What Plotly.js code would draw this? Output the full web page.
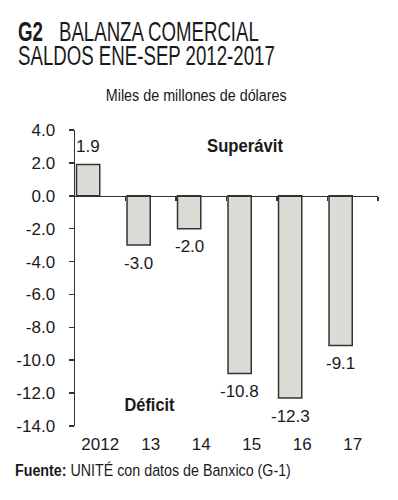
<!DOCTYPE html>
<html><head><meta charset="utf-8">
<script src="https://cdn.plot.ly/plotly-3.0.1.min.js"></script>
<style>html,body{margin:0;padding:0;background:#fff;}#chart{width:398px;height:500px;}</style>
</head><body><div id="chart"></div>
<script>
const categories = ['2012', '13', '14', '15', '16', '17'];
const values = [1.9, -3.0, -2.0, -10.8, -12.3, -9.1];
const valueLabels = ['1.9', '-3.0', '-2.0', '-10.8', '-12.3', '-9.1'];
const yTickVals = [4, 2, 0, -2, -4, -6, -8, -10, -12, -14];
const yTickText = ['4.0', '2.0', '0.0', '-2.0', '-4.0', '-6.0', '-8.0', '-10.0', '-12.0', '-14.0'];

const ink = '#1a1a1a';
const axisCol = '#333333';
const reg = 'Liberation Sans, Arial, sans-serif';

const barOffset = -0.47, barWidth = 0.46;

const trace = {
  type: 'bar', x: categories, y: values,
  offset: barOffset, width: barWidth,
  marker: {color: '#dcdcd7', line: {color: axisCol, width: 1.5}},
  hoverinfo: 'skip', showlegend: false
};

const valueAnns = values.map((v, i) => ({
  x: i + barOffset + barWidth / 2, y: v, xref: 'x', yref: 'y',
  text: valueLabels[i], showarrow: false,
  xanchor: 'center', yanchor: 'middle', yshift: v >= 0 ? 18 : -18,
  font: {family: reg, size: 17, color: ink}
}));

// condensed look: target widths in px for each text (the reference uses a condensed face)
const condensed = {
  'G2': 25,
  'BALANZA COMERCIAL': 200,
  'SALDOS ENE-SEP 2012-2017': 257,
  'Miles de millones de dólares': 181,
  'Superávit': 76,
  'Déficit': 50,
  'Fuente: UNITÉ con datos de Banxico (G-1)': 276
};

const textAnns = [
  {text: '<b>G2</b>', x: -0.1957, y: 1.334, xanchor: 'left', align: 'left', font: {family: reg, size: 28, color: ink}},
  {text: 'BALANZA COMERCIAL', x: -0.0578, y: 1.334, xanchor: 'left', align: 'left', font: {family: reg, size: 28, color: ink}},
  {text: 'SALDOS ENE-SEP 2012-2017', x: -0.1957, y: 1.251, xanchor: 'left', align: 'left', font: {family: reg, size: 28, color: ink}},
  {text: 'Miles de millones de dólares', x: 0.401, y: 1.1175, xanchor: 'center', font: {family: reg, size: 17, color: ink}},
  {text: '<b>Superávit</b>', x: 0.56, y: 0.945, xanchor: 'center', font: {family: reg, size: 18, color: ink}},
  {text: '<b>Déficit</b>', x: 0.2475, y: 0.071, xanchor: 'center', font: {family: reg, size: 18, color: ink}},
  {text: '<b>Fuente:</b> UNITÉ con datos de Banxico (G-1)', x: -0.2046, y: -0.149, xanchor: 'left', align: 'left', font: {family: reg, size: 17, color: ink}}
].map(a => Object.assign({xref: 'paper', yref: 'paper', yanchor: 'middle', showarrow: false}, a));

const boundaryTicks = categories.map((c, i) => i + 0.5);

const layout = {
  width: 398, height: 500,
  margin: {l: 75, r: 20, t: 130, b: 74, pad: 0},
  paper_bgcolor: '#ffffff', plot_bgcolor: '#ffffff',
  font: {family: reg, size: 17, color: ink},
  bargap: 0,
  xaxis: {
    type: 'category', categoryorder: 'array', categoryarray: categories,
    range: [-0.5, 5.5], showgrid: false, zeroline: false, showline: false,
    ticks: 'outside', ticklen: 3, tickcolor: 'rgba(0,0,0,0)',
    tickfont: {family: reg, size: 17, color: ink}, fixedrange: true
  },
  xaxis2: {
    overlaying: 'x', anchor: 'free', position: 14 / 18, type: 'linear',
    range: [-0.5, 5.5], showgrid: false, zeroline: false,
    showline: true, linecolor: axisCol, linewidth: 1.5,
    ticks: 'outside', ticklen: 4, tickcolor: axisCol, tickwidth: 1.5,
    tickmode: 'array', tickvals: boundaryTicks, showticklabels: false, fixedrange: true
  },
  yaxis: {
    range: [-14, 4], showgrid: false, zeroline: false,
    showline: true, linecolor: axisCol, linewidth: 1.5,
    ticks: 'outside', ticklen: 5, tickcolor: axisCol, tickwidth: 1.5,
    tickmode: 'array', tickvals: yTickVals, ticktext: yTickText,
    ticklabelstandoff: 10,
    tickfont: {family: reg, size: 17, color: ink}, fixedrange: true
  },
  annotations: valueAnns.concat(textAnns),
  showlegend: false
};

const dummy = {type: 'scatter', x: [-0.5, 5.5], y: [0, 0], xaxis: 'x2', yaxis: 'y', mode: 'lines', line: {width: 0}, hoverinfo: 'skip', showlegend: false};

Plotly.newPlot('chart', [trace, dummy], layout, {displayModeBar: false, staticPlot: true}).then(gd => {
  gd.querySelectorAll('text.annotation-text').forEach(t => {
    const w = condensed[t.textContent];
    if (!w) return;
    const bb = t.getBBox();
    if (!bb.width) return;
    const s = w / bb.width;
    const anchor = t.getAttribute('text-anchor') === 'start' ? bb.x : bb.x + bb.width / 2;
    t.setAttribute('transform', 'translate(' + anchor + ',0) scale(' + s + ',1) translate(' + (-anchor) + ',0)');
  });
});
</script></body></html>
